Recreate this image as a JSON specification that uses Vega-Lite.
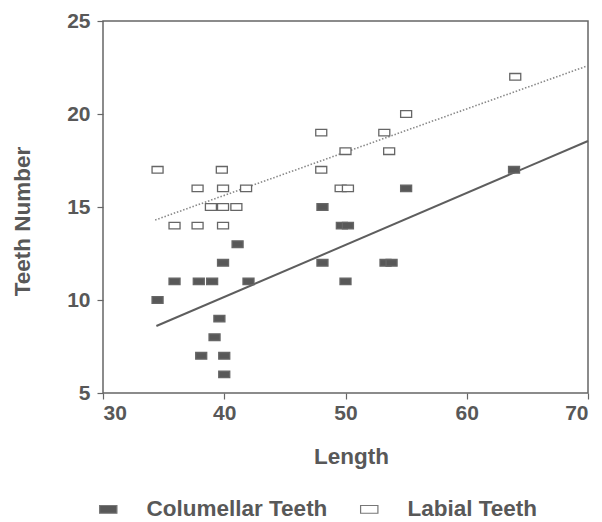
{
  "$schema": "https://vega.github.io/schema/vega-lite/v6.json",
  "autosize": "none",
  "width": 485,
  "height": 372,
  "padding": {"left": 103, "top": 21, "right": 14, "bottom": 129},
  "background": "white",
  "config": {
    "view": {"stroke": "#666", "strokeWidth": 1.5},
    "font": "Liberation Sans",
    "axis": {
      "grid": false,
      "domain": false,
      "tickColor": "#666",
      "tickWidth": 1.2,
      "tickSize": 6,
      "labelFont": "Liberation Sans",
      "labelFontWeight": "bold",
      "labelFontSize": 21,
      "labelColor": "#585858",
      "titleFont": "Liberation Sans",
      "titleFontWeight": "bold",
      "titleFontSize": 22.5,
      "titleColor": "#585858"
    }
  },
  "datasets": {
    "pts": [
      {"Length": 34.5, "Teeth": 10, "series": "Columellar Teeth"},
      {"Length": 35.9, "Teeth": 11, "series": "Columellar Teeth"},
      {"Length": 37.9, "Teeth": 11, "series": "Columellar Teeth"},
      {"Length": 39.0, "Teeth": 11, "series": "Columellar Teeth"},
      {"Length": 42.0, "Teeth": 11, "series": "Columellar Teeth"},
      {"Length": 41.1, "Teeth": 13, "series": "Columellar Teeth"},
      {"Length": 39.9, "Teeth": 12, "series": "Columellar Teeth"},
      {"Length": 39.6, "Teeth": 9, "series": "Columellar Teeth"},
      {"Length": 39.2, "Teeth": 8, "series": "Columellar Teeth"},
      {"Length": 38.1, "Teeth": 7, "series": "Columellar Teeth"},
      {"Length": 40.0, "Teeth": 7, "series": "Columellar Teeth"},
      {"Length": 40.0, "Teeth": 6, "series": "Columellar Teeth"},
      {"Length": 48.1, "Teeth": 15, "series": "Columellar Teeth"},
      {"Length": 48.1, "Teeth": 12, "series": "Columellar Teeth"},
      {"Length": 49.7, "Teeth": 14, "series": "Columellar Teeth"},
      {"Length": 50.2, "Teeth": 14, "series": "Columellar Teeth"},
      {"Length": 55.0, "Teeth": 16, "series": "Columellar Teeth"},
      {"Length": 53.3, "Teeth": 12, "series": "Columellar Teeth"},
      {"Length": 53.8, "Teeth": 12, "series": "Columellar Teeth"},
      {"Length": 50.0, "Teeth": 11, "series": "Columellar Teeth"},
      {"Length": 63.9, "Teeth": 17, "series": "Columellar Teeth"},
      {"Length": 34.5, "Teeth": 17, "series": "Labial Teeth"},
      {"Length": 37.8, "Teeth": 16, "series": "Labial Teeth"},
      {"Length": 39.9, "Teeth": 16, "series": "Labial Teeth"},
      {"Length": 41.8, "Teeth": 16, "series": "Labial Teeth"},
      {"Length": 38.9, "Teeth": 15, "series": "Labial Teeth"},
      {"Length": 39.9, "Teeth": 15, "series": "Labial Teeth"},
      {"Length": 41.0, "Teeth": 15, "series": "Labial Teeth"},
      {"Length": 35.9, "Teeth": 14, "series": "Labial Teeth"},
      {"Length": 37.8, "Teeth": 14, "series": "Labial Teeth"},
      {"Length": 39.9, "Teeth": 14, "series": "Labial Teeth"},
      {"Length": 39.8, "Teeth": 17, "series": "Labial Teeth"},
      {"Length": 48.0, "Teeth": 19, "series": "Labial Teeth"},
      {"Length": 48.0, "Teeth": 17, "series": "Labial Teeth"},
      {"Length": 50.0, "Teeth": 18, "series": "Labial Teeth"},
      {"Length": 49.6, "Teeth": 16, "series": "Labial Teeth"},
      {"Length": 50.2, "Teeth": 16, "series": "Labial Teeth"},
      {"Length": 53.2, "Teeth": 19, "series": "Labial Teeth"},
      {"Length": 53.6, "Teeth": 18, "series": "Labial Teeth"},
      {"Length": 55.0, "Teeth": 20, "series": "Labial Teeth"},
      {"Length": 64.0, "Teeth": 22, "series": "Labial Teeth"}
    ],
    "colLine": [
      {"Length": 34.4, "Teeth": 8.6},
      {"Length": 70, "Teeth": 18.55}
    ],
    "labLine": [
      {"Length": 34.3, "Teeth": 14.3},
      {"Length": 70, "Teeth": 22.6}
    ]
  },
  "layer": [
    {
      "data": {"name": "labLine"},
      "mark": {"type": "line", "color": "#8a8a8a", "strokeWidth": 1.6, "strokeDash": [1.5, 1.8]},
      "encoding": {
        "x": {"field": "Length", "type": "quantitative"},
        "y": {"field": "Teeth", "type": "quantitative"}
      }
    },
    {
      "data": {"name": "colLine"},
      "mark": {"type": "line", "color": "#5e5e5e", "strokeWidth": 2},
      "encoding": {
        "x": {"field": "Length", "type": "quantitative"},
        "y": {"field": "Teeth", "type": "quantitative"}
      }
    },
    {
      "data": {"name": "pts"},
      "mark": {
        "type": "point",
        "shape": "M-1,-0.6H1V0.6H-1Z",
        "size": 121,
        "filled": true,
        "opacity": 1,
        "stroke": "#666",
        "strokeWidth": 1.3
      },
      "encoding": {
        "x": {
          "field": "Length",
          "type": "quantitative",
          "scale": {"domain": [30, 70], "nice": false, "zero": false},
          "axis": {
            "values": [30, 40, 50, 60, 70],
            "labelPadding": 3,
            "title": "Length",
            "titleX": 248,
            "titleY": 70,
            "titleBaseline": "alphabetic"
          }
        },
        "y": {
          "field": "Teeth",
          "type": "quantitative",
          "scale": {"domain": [5, 25], "nice": false, "zero": false},
          "axis": {
            "values": [5, 10, 15, 20, 25],
            "labelPadding": 7,
            "title": "Teeth Number",
            "titleX": -74,
            "titleY": 200,
            "titleBaseline": "alphabetic",
            "titleAngle": -90
          }
        },
        "fill": {
          "field": "series",
          "type": "nominal",
          "scale": {"domain": ["Columellar Teeth", "Labial Teeth"], "range": ["#585858", "#ffffff"]},
          "legend": {
            "title": null,
            "orient": "none",
            "direction": "horizontal",
            "legendX": -6,
            "legendY": 477,
            "padding": 0,
            "symbolType": "M-1,-0.45H1V0.45H-1Z",
            "symbolSize": 300,
            "symbolStrokeColor": "#777",
            "symbolStrokeWidth": 1.2,
            "labelOffset": 27,
            "columnPadding": 30,
            "labelFont": "Liberation Sans",
            "labelFontWeight": "bold",
            "labelFontSize": 22.5,
            "labelColor": "#585858",
            "labelLimit": 400
          }
        }
      }
    }
  ]
}
